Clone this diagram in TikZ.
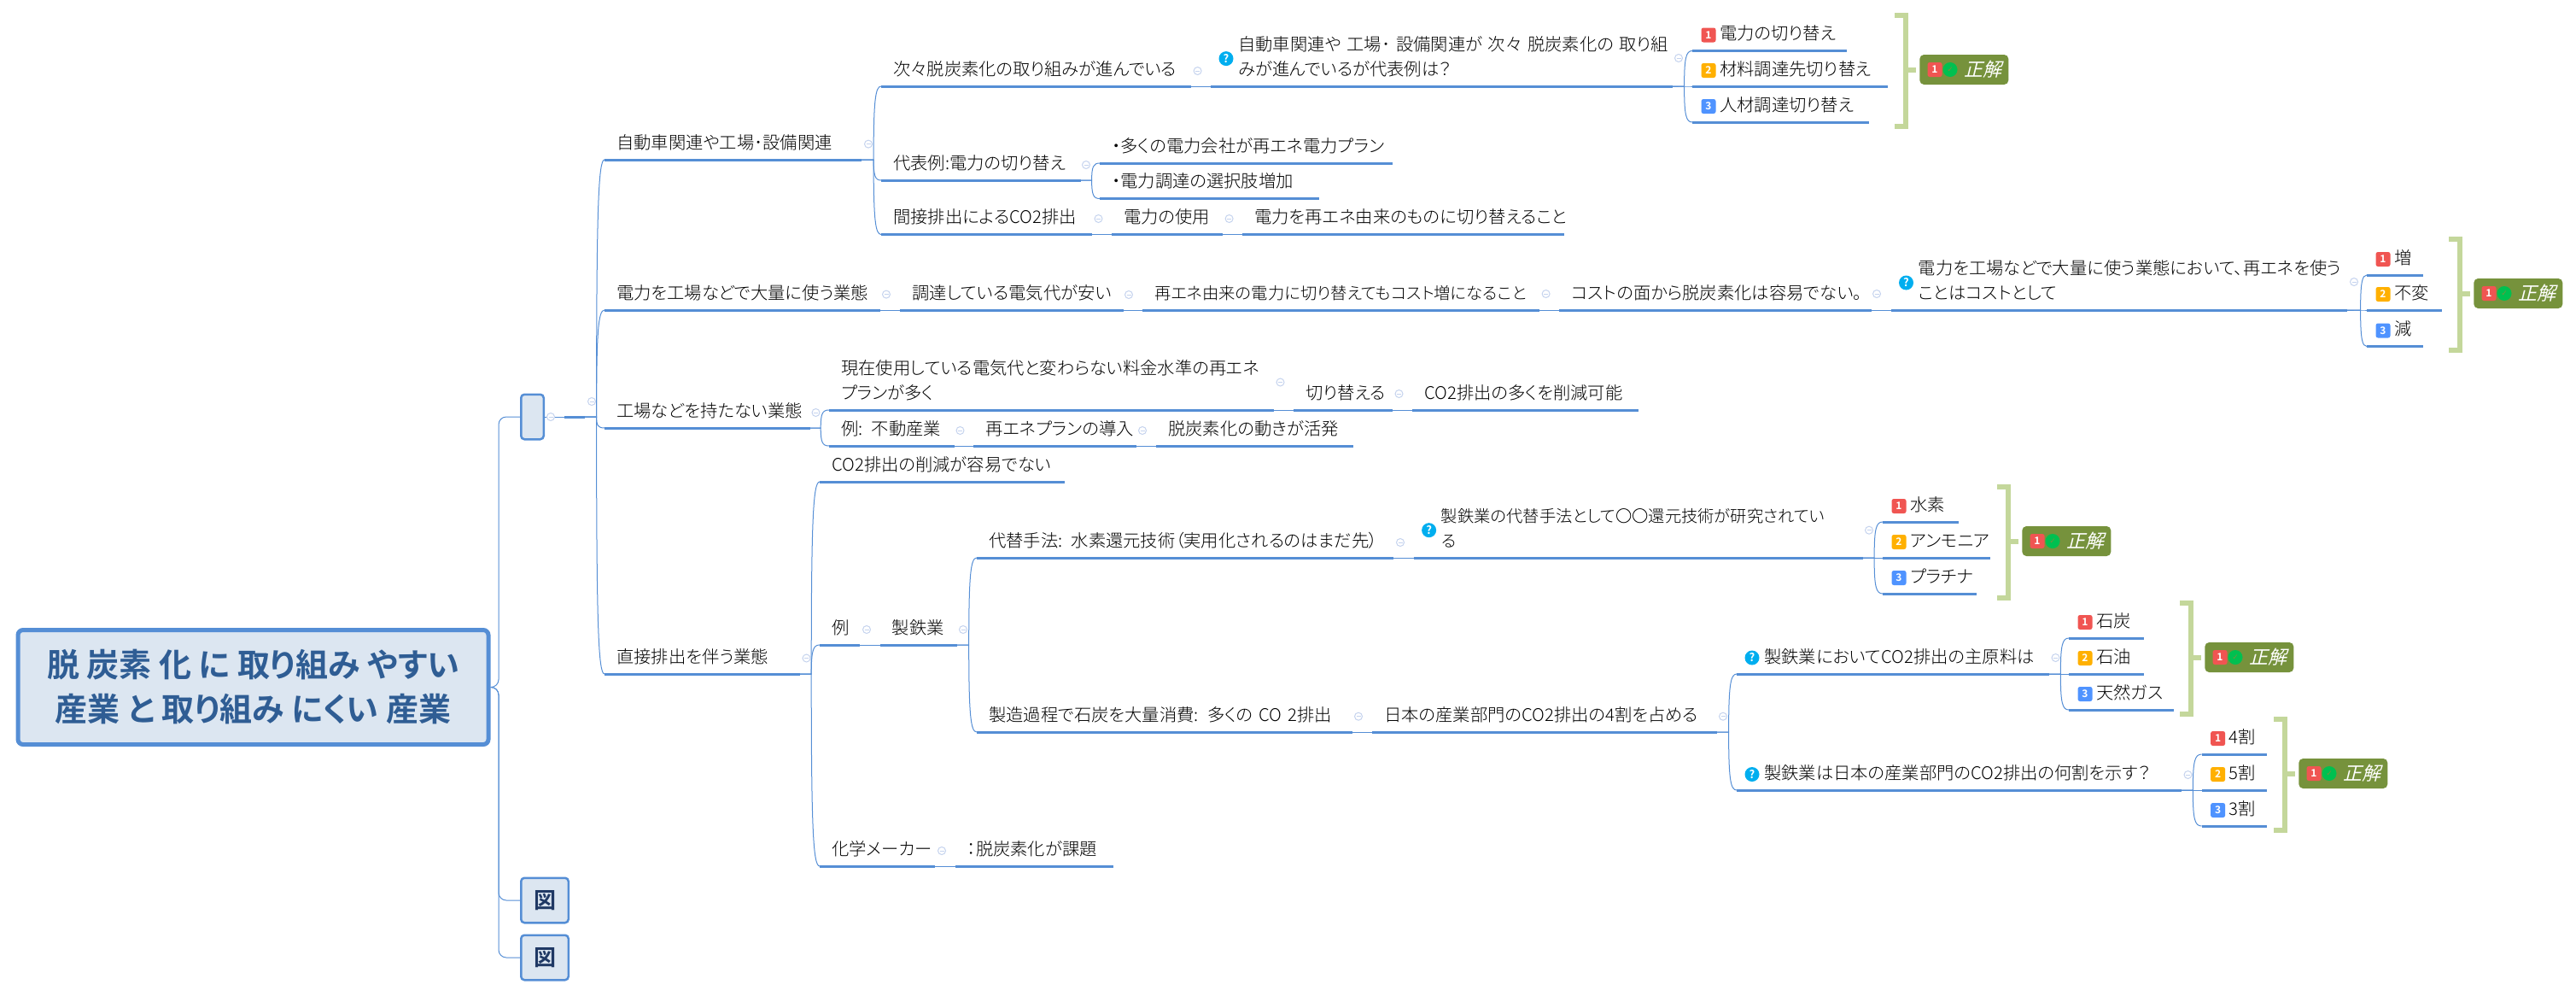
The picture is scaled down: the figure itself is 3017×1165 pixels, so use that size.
\documentclass[tikz,border=0pt]{standalone}
\usepackage{fontspec}
\usepackage{xcolor}
\usepackage{tikz}
\usetikzlibrary{calc}
\setmainfont[RawFeature=+palt,UprightFont=* Light,BoldFont=* Bold]{Noto Sans CJK JP}
\newfontfamily\slantfont[FakeSlant=0.25,RawFeature=+palt]{Noto Sans CJK JP}
\newfontfamily\symfont{DejaVu Sans}
\definecolor{linecol}{HTML}{558ED5}
\definecolor{boxfill}{HTML}{DCE6F1}
\definecolor{titlecol}{HTML}{2F5D94}
\definecolor{figcol}{HTML}{1F3864}
\definecolor{foldcol}{HTML}{C5D3EE}
\definecolor{numred}{HTML}{F05552}
\definecolor{numorange}{HTML}{FFB000}
\definecolor{numblue}{HTML}{4F93FF}
\definecolor{qcol}{HTML}{00AEEF}
\definecolor{okcol}{HTML}{00C050}
\definecolor{badgecol}{HTML}{76923C}
\definecolor{bracketcol}{HTML}{C4D79B}
\begin{document}
\begin{tikzpicture}[x=1pt,y=-1pt,auto,semithick]
\tikzstyle{uline}=[draw=linecol,line width=3pt]
\tikzstyle{topic}=[anchor=south west,inner ysep=4pt,inner xsep=14pt,text width=#1pt-28pt,align=left,font=\fontsize{20.3}{28.5}\selectfont,execute at begin node=\strut,execute at end node=\strut,append after command={(\tikzlastnode.south west) edge[uline] (\tikzlastnode.south east)}]
\tikzstyle{itopic}=[topic=#1,inner xsep=32pt,text width=#1pt-64pt]
\tikzstyle{tight}=[font=\fontsize{19.3}{28.5}\selectfont]
\tikzstyle{hub}=[anchor=south west,inner sep=0pt,minimum width=23pt,minimum height=4pt,append after command={(\tikzlastnode.south west) edge[uline] (\tikzlastnode.south east)}]
\tikzstyle{link}=[draw=linecol,line width=1pt]
\tikzstyle{rootbranch}=[link,rounded corners=9pt,to path={-- ++(#1,0) |- (\tikztotarget)}]
\tikzstyle{branch}=[link,to path={let \p1=(\tikztostart),\p2=(\tikztotarget) in -- ++(#1,0) .. controls ({\x1+#1pt},{\y1*.2+\y2*.8}) and ({\x1+#1pt+2pt},\y2) .. (\tikztotarget)}]
\tikzstyle{rootbox}=[draw=linecol,line width=5pt,fill=boxfill,rounded corners=6pt,minimum width=551pt,minimum height=134pt,align=center,text=titlecol,font=\fontsize{38}{52}\selectfont\bfseries]
\tikzstyle{figbox}=[anchor=east,draw=linecol,line width=2.5pt,fill=boxfill,rounded corners=4pt,minimum height=52.5pt,text=figcol,font=\fontsize{26}{30}\selectfont\bfseries]
\tikzstyle{fold}=[circle,draw=foldcol,fill=white,line width=1pt,minimum size=9pt,inner sep=0pt,path picture={\draw[foldcol,line width=1pt] ([xshift=-2.5pt]path picture bounding box.center) -- ([xshift=2.5pt]path picture bounding box.center);}]
\tikzstyle{numicon}=[fill=#1,rounded corners=2.5pt,minimum size=17pt,inner sep=0pt,text=white,font=\fontsize{12}{12}\selectfont\bfseries]
\tikzstyle{qicon}=[circle,fill=qcol,minimum size=17pt,inner sep=0pt,text=white,font=\fontsize{13}{13}\selectfont\bfseries]
\tikzstyle{okdot}=[circle,fill=okcol,minimum size=17pt,inner sep=0pt,text=badgecol,font=\symfont\fontsize{9}{10}\selectfont]
\tikzstyle{badge}=[anchor=west,fill=badgecol,rounded corners=5pt,minimum width=104pt,minimum height=35pt,inner sep=0pt,text=white,font=\slantfont\fontsize{22}{24}\selectfont]
\tikzstyle{bracket}=[draw=bracketcol,line width=6pt]

\useasboundingbox (0,0) rectangle (3017,1165);

\node[rootbox]      (root)  at (296.5,804.5) {脱 炭素 化 に 取り組み やすい\\産業 と 取り組み にくい 産業};
\node[figbox,minimum width=26.5pt] (blank) at (638,488)  {};
\node[figbox,minimum width=55.5pt] (figa)  at (667,1054) {図};
\node[figbox,minimum width=55.5pt] (figb)  at (667,1121) {図};
\node[hub]          (hub)   at (661,488) {};

\node[topic=300]    (auto)    at (708,187)    {自動車関連や工場･設備関連};
\node[topic=362]    (sub)     at (1032,101)   {次々脱炭素化の取り組みが進んでいる};
\node[itopic=540]   (qa)      at (1418,101)   {自動車関連や~工場･~設備関連が~次々~脱炭素化の~取り組\\みが進んでいるが代表例は？};
\node[itopic=180]   (qaone)   at (1982,59.5)  {電力の切り替え};
\node[itopic=228]   (qatwo)   at (1982,101)   {材料調達先切り替え};
\node[itopic=206]   (qathree) at (1982,143)   {人材調達切り替え};
\node[topic=233]    (rep)     at (1032,211)   {代表例:電力の切り替え};
\node[topic=342]    (repa)    at (1288,191)   {・多くの電力会社が再エネ電力プラン};
\node[topic=256]    (repb)    at (1288,232.5) {・電力調達の選択肢増加};
\node[topic=246]    (ind)     at (1032,274.5) {間接排出によるCO2排出};
\node[topic=129]    (use)     at (1302,274.5) {電力の使用};
\node[topic=376]    (renew)   at (1455,274.5) {電力を再エネ由来のものに切り替えること};

\node[topic=322]    (power)   at (708,363)    {電力を工場などで大量に使う業態};
\node[topic=261]    (cheap)   at (1054,363)   {調達している電気代が安い};
\node[topic=464,tight] (cost) at (1338,363)   {再エネ由来の電力に切り替えてもコスト増になること};
\node[topic=365]    (hard)    at (1826,363)   {コストの面から脱炭素化は容易でない。};
\node[itopic=533.5] (qb)      at (2214.5,363) {電力を工場などで大量に使う業態において、再エネを使う\\ことはコストとして};
\node[itopic=65]    (qbone)   at (2772,322)   {増};
\node[itopic=87]    (qbtwo)   at (2772,363)   {不変};
\node[itopic=65]    (qbthree) at (2772,405.5) {減};

\node[topic=240]    (noplant) at (708,501)    {工場などを持たない業態};
\node[topic=520]    (now)     at (971,480)    {現在使用している電気代と変わらない料金水準の再エネ\\プランが多く};
\node[topic=115]    (swap)    at (1515,480)   {切り替える};
\node[topic=264]    (many)    at (1654,480)   {CO2排出の多くを削減可能};
\node[topic=146]    (exre)    at (971,522)    {例: 不動産業};
\node[topic=190]    (plan)    at (1140,522)   {再エネプランの導入};
\node[topic=230]    (move)    at (1354,522)   {脱炭素化の動きが活発};

\node[topic=228]    (direct)  at (708,789)    {直接排出を伴う業態};
\node[topic=286]    (coh)     at (960,564)    {CO2排出の削減が容易でない};
\node[topic=46]     (exam)    at (960,755)    {例};
\node[topic=90]     (steel)   at (1030.6,755) {製鉄業};
\node[topic=134]    (chem)    at (960,1014)   {化学メーカー};
\node[topic=185]    (task)    at (1118.6,1014) {：脱炭素化が課題};
\node[topic=487]    (alt)     at (1144,653)   {代替手法: 水素還元技術（実用化されるのはまだ先）};
\node[itopic=525.4,tight] (qc) at (1655.6,653) {製鉄業の代替手法として〇〇還元技術が研究されてい\\る};
\node[itopic=88]    (qcone)   at (2205,611)   {水素};
\node[itopic=125.6] (qctwo)   at (2205,653)   {アンモニア};
\node[itopic=109.5] (qcthree) at (2205,695)   {プラチナ};
\node[topic=439.5]  (proc)    at (1144,857)   {製造過程で石炭を大量消費: 多くの CO 2排出};
\node[topic=403]    (share)   at (1607,857)   {日本の産業部門のCO2排出の4割を占める};
\node[itopic=365]   (qd)      at (2034,789)   {製鉄業においてCO2排出の主原料は};
\node[itopic=87]    (qdone)   at (2423,747)   {石炭};
\node[itopic=87]    (qdtwo)   at (2423,789)   {石油};
\node[itopic=122]   (qdthree) at (2423,831)   {天然ガス};
\node[itopic=520.5] (qe)      at (2034,925)   {製鉄業は日本の産業部門のCO2排出の何割を示す？};
\node[itopic=75.4]  (qeone)   at (2578.6,883) {4割};
\node[itopic=75.4]  (qetwo)   at (2578.6,925) {5割};
\node[itopic=75.4]  (qethree) at (2578.6,967) {3割};

\path
(root.east) edge [rootbranch=9.5] (blank.west)
            edge [rootbranch=9.5] (figa.west)
            edge [rootbranch=9.5] (figb.west)
(blank.east) edge [link] (hub.south west)
(hub.south east) edge [branch=14] (auto.south west)
                 edge [branch=14] (power.south west)
                 edge [branch=14] (noplant.south west)
                 edge [branch=14] (direct.south west)
(auto.south east) edge [branch=14.5] (sub.south west)
                  edge [branch=14.5] (rep.south west)
                  edge [branch=14.5] (ind.south west)
(sub.south east) edge [link] (qa.south west)
(qa.south east) edge [branch=14] (qaone.south west)
                edge [branch=14] (qatwo.south west)
                edge [branch=14] (qathree.south west)
(rep.south east) edge [branch=13] (repa.south west)
                 edge [branch=13] (repb.south west)
(ind.south east) edge [link] (use.south west)
(use.south east) edge [link] (renew.south west)
(power.south east) edge [link] (cheap.south west)
(cheap.south east) edge [link] (cost.south west)
(cost.south east) edge [link] (hard.south west)
(hard.south east) edge [link] (qb.south west)
(qb.south east) edge [branch=16] (qbone.south west)
                edge [branch=16] (qbtwo.south west)
                edge [branch=16] (qbthree.south west)
(noplant.south east) edge [branch=12.6] (now.south west)
                     edge [branch=12.6] (exre.south west)
(now.south east) edge [link] (swap.south west)
(swap.south east) edge [link] (many.south west)
(exre.south east) edge [link] (plan.south west)
(plan.south east) edge [link] (move.south west)
(direct.south east) edge [branch=13.6] (coh.south west)
                    edge [branch=13.6] (exam.south west)
                    edge [branch=13.6] (chem.south west)
(exam.south east) edge [link] (steel.south west)
(chem.south east) edge [link] (task.south west)
(steel.south east) edge [branch=13.5] (alt.south west)
                   edge [branch=13.5] (proc.south west)
(alt.south east) edge [link] (qc.south west)
(qc.south east) edge [branch=13.5] (qcone.south west)
                edge [branch=13.5] (qctwo.south west)
                edge [branch=13.5] (qcthree.south west)
(proc.south east) edge [link] (share.south west)
(share.south east) edge [branch=14] (qd.south west)
                   edge [branch=14] (qe.south west)
(qd.south east) edge [branch=13.7] (qdone.south west)
                edge [branch=13.7] (qdtwo.south west)
                edge [branch=13.7] (qdthree.south west)
(qe.south east) edge [branch=13.2] (qeone.south west)
                edge [branch=13.2] (qetwo.south west)
                edge [branch=13.2] (qethree.south west);

\foreach \x/\y [count=\i] in {645/488,693/470,1017/168.6,1402.6/83,1966/68,1272/193,1286.5/256,1439.6/256,1038/344.6,1322/345,1810.6/344,2198/344,2757/330,955.5/483,1499.5/447.5,1638.5/461,1124.5/504,1338/504,944.5/770.5,1015/737,1128/737,1103/996,1640/635,2189/620.7,1591/838.7,2018/838.7,2407.5/770,2562.5/907}
  \node[fold] (fold\i) at (\x,\y) {};

\foreach \n/\c/\d in {qaone/numred/1,qatwo/numorange/2,qathree/numblue/3,qbone/numred/1,qbtwo/numorange/2,qbthree/numblue/3,qcone/numred/1,qctwo/numorange/2,qcthree/numblue/3,qdone/numred/1,qdtwo/numorange/2,qdthree/numblue/3,qeone/numred/1,qetwo/numorange/2,qethree/numblue/3}
  \node[numicon=\c] (icon\n) at ([shift={(19,-18.5)}]\n.south west) {\d};

\foreach \n/\y in {qa/-32.4,qb/-32,qc/-32.3,qd/-19,qe/-18.5}
  \node[qicon] (icon\n) at ([shift={(18,\y)}]\n.south west) {?};

\foreach \x/\y/\n in {2248/81.5/a,2897/343.5/b,2368/633.5/c,2582/769.5/d,2692/905.5/e}{
  \node[badge] (badge\n) at (\x,\y) {\hspace*{44pt}正解};
  \node[numicon=numred] (badgenum\n) at ([xshift=18pt]badge\n.west) {1};
  \node[okdot] (badgeok\n) at ([xshift=36pt]badge\n.west) {✓};
  \draw[bracket] ([shift={(-29,-63.5)}]badge\n.west) -- ++(13,0) |- ([shift={(-29,66.5)}]badge\n.west);
  \path ([xshift=-17pt]badge\n.west) edge [bracket,shorten >=4pt] (badge\n.west);
}
\end{tikzpicture}
\end{document}
